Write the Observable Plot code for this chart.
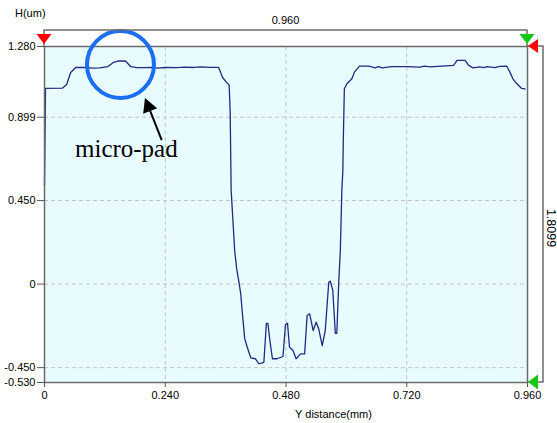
<!DOCTYPE html>
<html><head><meta charset="utf-8">
<script src="https://cdn.jsdelivr.net/npm/d3@7"></script>
<script src="https://cdn.jsdelivr.net/npm/@observablehq/plot@0.6"></script>
<style>
html,body{margin:0;padding:0;background:#fff;}
#chart svg{display:block;}
</style></head><body><div id="chart"></div>
<script>
// Profile: Y distance (mm) and height H (um)
const distance = [0,0.002,0.036,0.044,0.052,0.062,0.080,0.095,0.110,0.126,0.137,0.148,0.161,0.171,0.181,0.195,0.215,0.225,0.240,0.262,0.280,0.296,0.310,0.330,0.346,0.354,0.360,0.367,0.369,0.371,0.378,0.382,0.386,0.390,0.394,0.398,0.403,0.410,0.419,0.426,0.436,0.441,0.444,0.448,0.453,0.462,0.474,0.479,0.483,0.487,0.494,0.500,0.509,0.517,0.522,0.527,0.534,0.540,0.545,0.552,0.558,0.565,0.568,0.573,0.578,0.581,0.585,0.588,0.591,0.593,0.594,0.596,0.601,0.611,0.616,0.626,0.645,0.657,0.664,0.671,0.690,0.720,0.747,0.755,0.767,0.790,0.813,0.820,0.836,0.843,0.852,0.865,0.873,0.880,0.895,0.905,0.919,0.925,0.931,0.939,0.948,0.955];
const heightUm = [0.531,1.054,1.056,1.075,1.140,1.167,1.167,1.163,1.165,1.172,1.194,1.202,1.202,1.172,1.167,1.166,1.168,1.164,1.167,1.166,1.169,1.167,1.170,1.168,1.168,1.113,1.092,1.072,0.935,0.504,0.181,0.082,0.019,-0.052,-0.178,-0.295,-0.340,-0.397,-0.402,-0.429,-0.421,-0.211,-0.211,-0.304,-0.402,-0.402,-0.390,-0.218,-0.211,-0.340,-0.358,-0.402,-0.376,-0.376,-0.169,-0.160,-0.250,-0.205,-0.241,-0.331,-0.250,0.010,0.016,-0.034,-0.265,-0.265,0.019,0.181,0.504,0.612,0.791,1.052,1.079,1.106,1.142,1.174,1.174,1.165,1.172,1.165,1.172,1.172,1.169,1.174,1.170,1.174,1.178,1.205,1.205,1.178,1.165,1.170,1.166,1.172,1.166,1.173,1.174,1.142,1.106,1.079,1.055,1.052];

const xDomain = [0, 0.96];
const yDomain = [-0.53, 1.28];
const xTicks = [0, 0.24, 0.48, 0.72, 0.96];
const xTickLabels = ["0", "0.240", "0.480", "0.720", "0.960"];
const yTicks = [-0.53, -0.45, 0, 0.45, 0.899, 1.28];
const yTickLabels = ["-0.530", "-0.450", "0", "0.450", "0.899", "1.280"];
const xGrid = [0.24, 0.48, 0.72];
const yGrid = [-0.45, 0, 0.45, 0.899];
const xSpanLabel = "0.960";
const ySpanLabel = "1.8099";
const xAxisTitle = "Y distance(mm)";
const yAxisTitle = "H(um)";
const noteText = "micro-pad";
// annotation anchors in data units
const padCircle = [{x: 0.151, h: 1.183}];
const arrowFrom = {x: 0.234, h: 0.773};
const arrowTo = {x: 0.2007, h: 1.0};
const notePos = {x: 0.0616, h: 0.682};

const profile = distance.map((d, i) => ({x: d, h: heightUm[i]}));

const FONT = "'Liberation Sans', Arial, sans-serif";

function decor(index, scales) {
  const {x, y} = scales;
  const g = d3.create("svg:g");
  const x0 = x(xDomain[0]), x1 = x(xDomain[1]);
  const yT = y(yDomain[1]), yB = y(yDomain[0]);
  const lineCol = "#6e6e6e";
  // top span bracket
  g.append("path").attr("d", `M${x0},${yT}V${yT-16}H${x1}V${yT}`)
    .attr("fill", "none").attr("stroke", lineCol).attr("stroke-width", 1.5);
  // right span bracket
  g.append("path").attr("d", `M${x1},${yT}H${x1+16}V${yB}H${x1}`)
    .attr("fill", "none").attr("stroke", lineCol).attr("stroke-width", 1.5);
  g.append("text").attr("x", (x0 + x1) / 2).attr("y", yT - 22)
    .attr("text-anchor", "middle").attr("font-family", FONT).attr("font-size", 11)
    .attr("fill", "#000").text(xSpanLabel);
  g.append("text").attr("transform", `translate(${x1+20},${(yT+yB)/2 + 14}) rotate(90)`)
    .attr("text-anchor", "middle").attr("font-family", FONT).attr("font-size", 12.5)
    .attr("fill", "#000").text(ySpanLabel);
  // axis titles
  g.append("text").attr("x", x0 - 29).attr("y", yT - 29).attr("text-anchor", "start")
    .attr("font-family", FONT).attr("font-size", 11).attr("fill", "#000").text(yAxisTitle);
  g.append("text").attr("x", (x0 + x1) / 2 + 48).attr("y", yB + 36)
    .attr("text-anchor", "middle").attr("font-family", FONT).attr("font-size", 11)
    .attr("fill", "#000").text(xAxisTitle);
  // cursor triangles
  const tri = (pts, col) => g.append("path").attr("d", "M" + pts.map(p => p.join(",")).join("L") + "Z").attr("fill", col);
  tri([[x0-7.5, yT-12], [x0+7.5, yT-12], [x0, yT-2]], "#ff0000");
  tri([[x1-7.5, yT-12], [x1+7.5, yT-12], [x1, yT-2]], "#12c812");
  tri([[x1+11, yB-7.5], [x1+11, yB+7.5], [x1+1, yB]], "#12c812");
  tri([[x1+11, yT-7], [x1+11, yT+7], [x1+1, yT]], "#ff0000");
  // annotation arrow
  const ax1 = x(arrowFrom.x), ay1 = y(arrowFrom.h), ax2 = x(arrowTo.x), ay2 = y(arrowTo.h);
  const ang = Math.atan2(ay2 - ay1, ax2 - ax1);
  const L = 14, W = 7.5;
  const bx = ax2 - L * Math.cos(ang), by = ay2 - L * Math.sin(ang);
  g.append("line").attr("x1", ax1).attr("y1", ay1).attr("x2", bx).attr("y2", by)
    .attr("stroke", "#000").attr("stroke-width", 2);
  tri([[ax2, ay2], [bx + W * Math.sin(ang), by - W * Math.cos(ang)], [bx - W * Math.sin(ang), by + W * Math.cos(ang)]], "#000");
  g.append("text").attr("x", x(notePos.x)).attr("y", y(notePos.h)).attr("text-anchor", "start")
    .attr("font-family", "'Liberation Serif', 'Times New Roman', serif").attr("font-size", 25)
    .attr("fill", "#000").text(noteText);
  return g.node();
}

const chart = Plot.plot({
  width: 557,
  height: 423,
  marginLeft: 44,
  marginRight: 30,
  marginTop: 46,
  marginBottom: 41,
  style: {fontFamily: FONT, fontSize: "11px", background: "#ffffff", color: "#000"},
  x: {domain: xDomain, label: null},
  y: {domain: yDomain, label: null},
  marks: [
    Plot.frame({fill: "#e8fbfe", stroke: "none"}),
    Plot.gridX(xGrid, {stroke: "#c4c4c4", strokeOpacity: 1, strokeDasharray: "4,3"}),
    Plot.gridY(yGrid, {stroke: "#c4c4c4", strokeOpacity: 1, strokeDasharray: "4,3"}),
    Plot.line(profile, {x: "x", y: "h", stroke: "#1f2a80", strokeWidth: 1.3}),
    Plot.frame({stroke: "#6a6a6a", strokeWidth: 1.5}),
    Plot.axisX({ticks: xTicks, tickFormat: d => xTickLabels[xTicks.indexOf(d)], tickSize: 5, tickPadding: 4, stroke: "#555", fill: "#000", fontSize: 11}),
    Plot.axisY({ticks: yTicks, tickFormat: d => yTickLabels[yTicks.indexOf(d)], tickSize: 7, tickPadding: 2, stroke: "#555", fill: "#000", fontSize: 11}),
    Plot.dot(padCircle, {x: "x", y: "h", r: 33.5, stroke: "#1a6ff0", strokeWidth: 4, fill: "none"}),
    decor
  ]
});
document.getElementById("chart").appendChild(chart);
</script>
</body></html>
